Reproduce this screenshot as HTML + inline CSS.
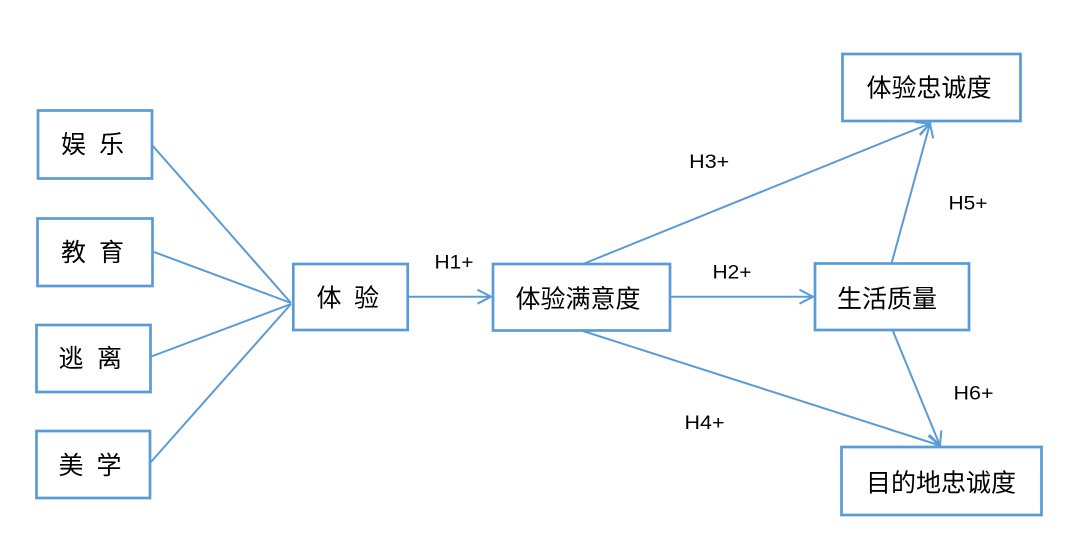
<!DOCTYPE html>
<html>
<head>
<meta charset="utf-8">
<style>
  html, body { margin: 0; padding: 0; background: #ffffff; }
  body { width: 1080px; height: 553px; overflow: hidden; }
  svg { display: block; }
  .box { fill: #ffffff; stroke: #5b9bd5; stroke-width: 2.7; }
  .ln { stroke: #5b9bd5; stroke-width: 2; fill: none; }
  .cjk { font-family: "Liberation Sans", "Noto Sans CJK SC", sans-serif; font-size: 25px; fill: #000; dominant-baseline: central; }
  .h { font-family: "Liberation Sans", sans-serif; font-size: 19.5px; fill: #000; }
</style>
</head>
<body>
<svg width="1080" height="553" viewBox="0 0 1080 553" xmlns="http://www.w3.org/2000/svg">
  <defs>
    <marker id="arr" markerUnits="userSpaceOnUse" markerWidth="18" markerHeight="18" refX="15" refY="8" orient="auto">
      <path d="M1.5,1 L15,8 L1.5,15" fill="none" stroke="#5b9bd5" stroke-width="2"/>
    </marker>
  </defs>

  <!-- connectors from left boxes to 体验 -->
  <line class="ln" x1="152" y1="145" x2="291" y2="303"/>
  <line class="ln" x1="154" y1="252" x2="291" y2="303"/>
  <line class="ln" x1="150" y1="357" x2="291" y2="304"/>
  <line class="ln" x1="150" y1="463" x2="291" y2="304"/>

  <!-- H1 -->
  <line class="ln" x1="408" y1="296.7" x2="491" y2="296.7" marker-end="url(#arr)"/>
  <!-- H2 -->
  <line class="ln" x1="670" y1="296.7" x2="813" y2="296.7" marker-end="url(#arr)"/>
  <!-- H3 -->
  <line class="ln" x1="583" y1="264" x2="930" y2="123.5" marker-end="url(#arr)"/>
  <!-- H5 -->
  <line class="ln" x1="891.5" y1="263.5" x2="930" y2="123.5" marker-end="url(#arr)"/>
  <!-- H4 -->
  <line class="ln" x1="583" y1="331" x2="940" y2="445.5" marker-end="url(#arr)"/>
  <!-- H6 -->
  <line class="ln" x1="892.5" y1="330" x2="940" y2="445.5" marker-end="url(#arr)"/>

  <!-- boxes -->
  <rect class="box" x="38" y="110.5" width="114" height="68"/>
  <rect class="box" x="37.5" y="218.5" width="115" height="67.5"/>
  <rect class="box" x="36.5" y="325" width="114" height="67"/>
  <rect class="box" x="36.5" y="431" width="113.5" height="67"/>
  <rect class="box" x="293.3" y="264" width="114.4" height="66"/>
  <rect class="box" x="493" y="264" width="177" height="66.5"/>
  <rect class="box" x="815" y="263.5" width="154" height="66.5"/>
  <rect class="box" x="842.5" y="54" width="178" height="67"/>
  <rect class="box" x="841.5" y="447" width="200" height="68"/>

  <!-- spaced two-char labels -->
  <text class="cjk" x="73.5" y="145" text-anchor="middle">娱</text>
  <text class="cjk" x="111.5" y="145" text-anchor="middle">乐</text>

  <text class="cjk" x="73.5" y="253" text-anchor="middle">教</text>
  <text class="cjk" x="111.5" y="253" text-anchor="middle">育</text>

  <text class="cjk" x="71" y="359" text-anchor="middle">逃</text>
  <text class="cjk" x="109.5" y="359" text-anchor="middle">离</text>

  <text class="cjk" x="71" y="466" text-anchor="middle">美</text>
  <text class="cjk" x="109" y="466" text-anchor="middle">学</text>

  <text class="cjk" x="329" y="298.5" text-anchor="middle">体</text>
  <text class="cjk" x="366.5" y="298.5" text-anchor="middle">验</text>

  <!-- multi-char labels -->
  <text class="cjk" x="578" y="299.5" text-anchor="middle">体验满意度</text>
  <text class="cjk" x="887" y="299.5" text-anchor="middle">生活质量</text>
  <text class="cjk" x="929" y="88.5" text-anchor="middle">体验忠诚度</text>
  <text class="cjk" x="941" y="483.3" text-anchor="middle">目的地忠诚度</text>

  <!-- hypothesis labels -->
  <text class="h" x="434.5" y="268.7" textLength="39" lengthAdjust="spacingAndGlyphs">H1+</text>
  <text class="h" x="712.5" y="278.5" textLength="39" lengthAdjust="spacingAndGlyphs">H2+</text>
  <text class="h" x="689.2" y="168" textLength="40" lengthAdjust="spacingAndGlyphs">H3+</text>
  <text class="h" x="684.5" y="429" textLength="40" lengthAdjust="spacingAndGlyphs">H4+</text>
  <text class="h" x="948.5" y="209.5" textLength="39" lengthAdjust="spacingAndGlyphs">H5+</text>
  <text class="h" x="953.5" y="399.5" textLength="40" lengthAdjust="spacingAndGlyphs">H6+</text>
</svg>
</body>
</html>
